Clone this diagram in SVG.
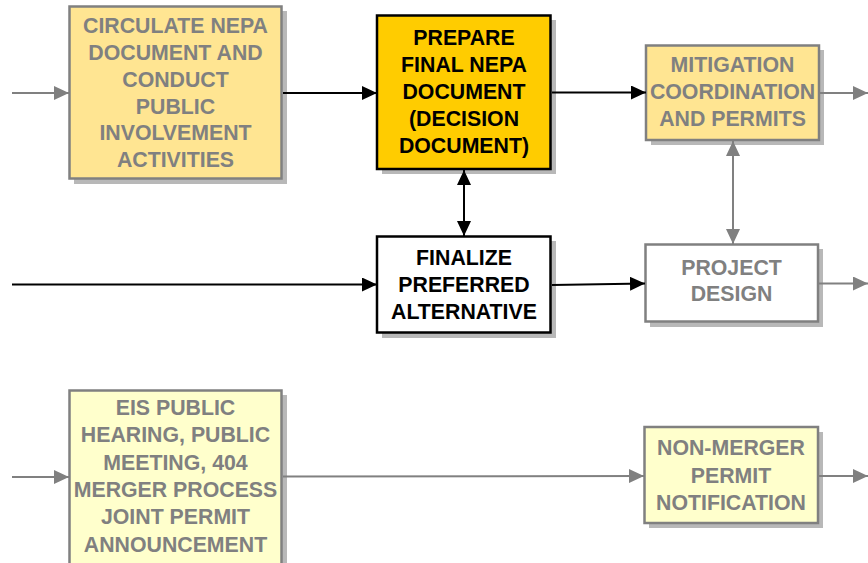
<svg xmlns="http://www.w3.org/2000/svg" width="868" height="563" viewBox="0 0 868 563">
<style>
.sh{fill:#b8b8b8}
.bx{stroke-width:2.5}
.g{stroke:#808080}
.k{stroke:#000}
.t{font-family:"Liberation Sans",Arial,sans-serif;font-weight:bold;font-size:21.3px;text-anchor:middle}
.tg{fill:#808080}
.tk{fill:#000}
.cg{stroke:#808080;stroke-width:2;fill:none}
.ck{stroke:#000;stroke-width:2;fill:none}
</style>
<defs>
<marker id="ag" markerUnits="userSpaceOnUse" markerWidth="15" markerHeight="14" refX="15" refY="7" orient="auto-start-reverse"><path d="M0,0 L15,7 L0,14 Z" fill="#808080"/></marker>
<marker id="ak" markerUnits="userSpaceOnUse" markerWidth="15" markerHeight="14" refX="15" refY="7" orient="auto-start-reverse"><path d="M0,0 L15,7 L0,14 Z" fill="#000"/></marker>
</defs>
<g id="circulate">
<rect class="sh" x="74" y="11" width="213" height="173"/>
<rect class="bx g" x="69.5" y="6.5" width="212" height="172" fill="#ffe592"/>
<text class="t tg" x="175.5"><tspan x="175.5" y="33">CIRCULATE NEPA</tspan><tspan x="175.5" y="60">DOCUMENT AND</tspan><tspan x="175.5" y="87">CONDUCT</tspan><tspan x="175.5" y="113.5">PUBLIC</tspan><tspan x="175.5" y="140">INVOLVEMENT</tspan><tspan x="175.5" y="167">ACTIVITIES</tspan></text>
</g>
<g id="prepare">
<rect class="sh" x="382" y="20" width="174" height="154"/>
<rect class="bx k" x="377" y="15.5" width="173.5" height="153.5" fill="#ffcc00"/>
<text class="t tk"><tspan x="464" y="45">PREPARE</tspan><tspan x="464" y="72">FINAL NEPA</tspan><tspan x="464" y="99">DOCUMENT</tspan><tspan x="464" y="126">(DECISION</tspan><tspan x="464" y="153">DOCUMENT)</tspan></text>
</g>
<g id="mitigation">
<rect class="sh" x="651" y="50" width="173" height="95"/>
<rect class="bx g" x="646" y="45.5" width="173" height="94.5" fill="#ffe592"/>
<text class="t tg"><tspan x="732.5" y="71.5">MITIGATION</tspan><tspan x="732.5" y="98.5">COORDINATION</tspan><tspan x="732.5" y="125.5">AND PERMITS</tspan></text>
</g>
<g id="finalize">
<rect class="sh" x="382" y="241" width="174" height="97"/>
<rect class="bx k" x="377" y="236.5" width="173.5" height="96" fill="#fff"/>
<text class="t tk"><tspan x="464" y="265">FINALIZE</tspan><tspan x="464" y="292">PREFERRED</tspan><tspan x="464" y="319">ALTERNATIVE</tspan></text>
</g>
<g id="project-design">
<rect class="sh" x="650" y="249" width="173" height="78"/>
<rect class="bx g" x="645.5" y="244.5" width="172.5" height="77" fill="#fff"/>
<text class="t tg"><tspan x="731.5" y="275">PROJECT</tspan><tspan x="731.5" y="301">DESIGN</tspan></text>
</g>
<g id="eis-hearing">
<rect class="sh" x="74" y="395" width="213" height="185"/>
<rect class="bx g" x="69.5" y="390.5" width="212" height="185" fill="#ffffcc"/>
<text class="t tg"><tspan x="175.5" y="414.5">EIS PUBLIC</tspan><tspan x="175.5" y="442">HEARING, PUBLIC</tspan><tspan x="175.5" y="469.5">MEETING, 404</tspan><tspan x="175.5" y="497">MERGER PROCESS</tspan><tspan x="175.5" y="524">JOINT PERMIT</tspan><tspan x="175.5" y="551.5">ANNOUNCEMENT</tspan></text>
</g>
<g id="non-merger">
<rect class="sh" x="649" y="432" width="174" height="96"/>
<rect class="bx g" x="644.5" y="427" width="173.5" height="96" fill="#ffffcc"/>
<text class="t tg"><tspan x="731" y="455">NON-MERGER</tspan><tspan x="731" y="483">PERMIT</tspan><tspan x="731" y="510">NOTIFICATION</tspan></text>
</g>
<g id="connectors">
<line class="cg" x1="12" y1="93" x2="69" y2="93" marker-end="url(#ag)"/>
<line class="ck" x1="283" y1="93" x2="377" y2="93" marker-end="url(#ak)"/>
<line class="ck" x1="552" y1="92.5" x2="646" y2="92.5" marker-end="url(#ak)"/>
<line class="cg" x1="820" y1="93" x2="868" y2="93" marker-end="url(#ag)"/>
<line class="ck" x1="464" y1="170" x2="464" y2="236" marker-start="url(#ak)" marker-end="url(#ak)"/>
<line class="cg" x1="733" y1="141" x2="733" y2="244" marker-start="url(#ag)" marker-end="url(#ag)"/>
<line class="ck" x1="12" y1="284.5" x2="377" y2="284.5" marker-end="url(#ak)"/>
<line class="ck" x1="552" y1="285" x2="645" y2="283.5" marker-end="url(#ak)"/>
<line class="cg" x1="819" y1="283.5" x2="868" y2="283.5" marker-end="url(#ag)"/>
<line class="cg" x1="12" y1="477" x2="69" y2="477" marker-end="url(#ag)"/>
<line class="cg" x1="283" y1="476.5" x2="644" y2="476" marker-end="url(#ag)"/>
<line class="cg" x1="819" y1="476" x2="868" y2="476" marker-end="url(#ag)"/>
</g>
</svg>
